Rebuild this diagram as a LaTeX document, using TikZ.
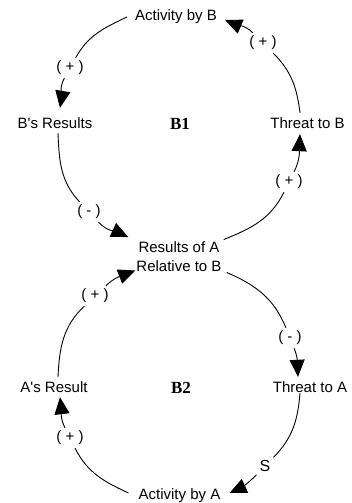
\documentclass[tikz,border=0pt]{standalone}
\usepackage{fontspec}
\setmainfont{Liberation Sans}
\newfontfamily\loopfont{Liberation Serif}
\usetikzlibrary{arrows.meta}
\begin{document}
\begin{tikzpicture}[x=1pt,y=1pt,
  txt/.style={font=\fontsize{15}{19.5}\selectfont, inner xsep=8pt, inner ysep=4pt, text height=11pt, text depth=3pt},
  txtm/.style={font=\fontsize{15}{19.5}\selectfont, inner xsep=8pt, inner ysep=4pt, align=center},
  lbl/.style={font=\fontsize{15}{17}\selectfont, inner sep=3pt},
  loopname/.style={font=\loopfont\bfseries\fontsize{17}{20}\selectfont},
  link/.style={line width=0.9pt, -{Triangle[length=17pt,width=15pt]}}]
\useasboundingbox (0,0) rectangle (351,503);

% variables
\node[txt,anchor=base] (actB) at (176,482) {Activity by B};
\node[txt,anchor=base] (bres) at (55,374) {B\textquotesingle s Results};
\node[txt,anchor=base] (thrB) at (307.5,374) {Threat to B};
\node[loopname,anchor=base] (b1) at (180,373) {B1};
\node[txtm] (resA) at (179,246.5) {Results of A\\Relative to B};
\node[loopname,anchor=base] (b2) at (181,109) {B2};
\node[txt,anchor=base] (aRes) at (54,110.5) {A\textquotesingle s Result};
\node[txt,anchor=base] (thrA) at (310,110.5) {Threat to A};
\node[txt,anchor=base] (actA) at (179.5,4) {Activity by A};

% link labels
\node[lbl] (l1) at (70,435) {( + )};
\node[lbl] (l2) at (89,291) {( - )};
\node[lbl] (l3) at (289,321) {( + )};
\node[lbl] (l4) at (263,460) {( + )};
\node[lbl] (l5) at (290,165) {( - )};
\node[lbl,font=\fontsize{16}{18}\selectfont] (l6) at (265,37) {S};
\node[lbl] (l7) at (70,65) {( + )};
\node[lbl] (l8) at (95,207) {( + )};

% loop B1
\draw[link] (actB.west) to[out=205.3,in=61] (l1)
  to[out=241,in=80.5] ([shift={(5,6)}]bres.north);
\draw[link] ([shift={(3,3)}]bres.south) to[out=272.4,in=133] (l2)
  to[out=313,in=155] (resA.north west);
\draw[link] ([shift={(-6,-2.5)}]resA.north east) to[out=21.9,in=243.9] (l3)
  to[out=63.9,in=267.2] ([shift={(-7.5,2)}]thrB.south);
\draw[link] ([shift={(-7.5,1)}]thrB.north) to[out=97.1,in=315.3] (l4)
  to[out=135.3,in=336.9] ([yshift=-3pt]actB.east);

% loop B2
\draw[link] ([shift={(-3,3.5)}]resA.south east) to[out=-23.4,in=112] (l5)
  to[out=-68,in=92.9] ([shift={(-12,0.5)}]thrA.north);
\draw[link] ([shift={(-10,6.5)}]thrA.south) to[out=-94.7,in=45.7] (l6)
  to[out=-134.3,in=24.9] ([shift={(1,2)}]actA.east);
\draw[link] ([shift={(-2,2)}]actA.west) to[out=155.1,in=296.8] (l7)
  to[out=116.8,in=276.7] ([shift={(6,2.5)}]aRes.south);
\draw[link] ([shift={(4,0.5)}]aRes.north) to[out=87.2,in=223.7] (l8)
  to[out=43.7,in=201.3] ([shift={(7,5.5)}]resA.south west);
\end{tikzpicture}
\end{document}
